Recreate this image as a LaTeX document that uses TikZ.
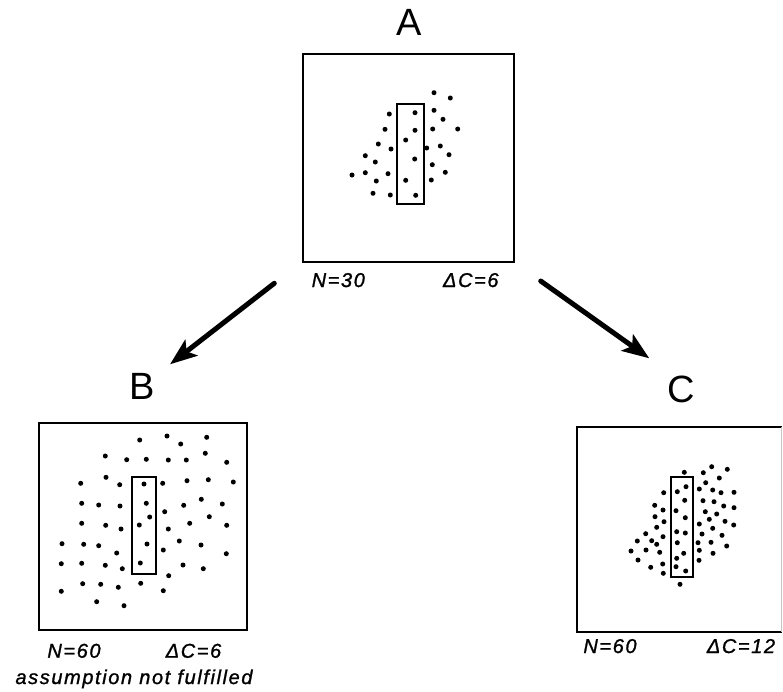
\documentclass[tikz,border=0pt]{standalone}
\usepackage{fontspec}
\setmainfont{Liberation Sans}
\newfontfamily\lblfont[LetterSpace=8,FakeBold=1.2]{Liberation Sans}
\usetikzlibrary{arrows.meta}
\tikzset{
  frame/.style={draw, line width=2.6pt, inner sep=0pt, outer sep=0pt},
  window/.style={draw, line width=2.3pt, inner sep=0pt, outer sep=0pt},
  title/.style={font=\fontsize{38}{40}\selectfont, inner sep=0pt, anchor=base},
  lbl/.style={font=\lblfont\itshape\fontsize{20}{22}\selectfont, inner sep=0pt, anchor=base},
  dot/.style={fill=black},
  flow/.style={line width=5pt, line cap=round, -{Stealth[length=27pt,width=20pt,inset=6pt]}}
}
\begin{document}
\begin{tikzpicture}[x=1pt,y=-1pt]
\useasboundingbox (0,0) rectangle (783,691);

% ---- panel A ----
\node[title] (tA) at (409,35) {A};
\node[frame, minimum width=211pt, minimum height=208pt] (boxA) at (408.5,158) {};
\node[window, minimum width=27pt, minimum height=100pt] (winA) at (410.5,154) {};
\foreach \x/\y in {434/92.7,450.3/98,389.3/114,415/112.7,434/110.3,443/119.3,
  385/129.3,415/130.3,432.7/129,457.7/129,405.7/140,378.3/144,391/149,426.7/148,
  440.3/146,365.3/155.7,449/154.7,375.3/162,414.7/159,432.3/164.7,352/175,
  365.3/172.7,388/173.7,445.3/172.3,376.3/181,405.7/180.3,431.3/180,373/193.3,
  390.3/195,415.7/195.3}
  \fill[dot] (\x,\y) circle (2.5pt);
\node[lbl] (nA) at (338.3,287) {N=30};
\node[lbl] (cA) at (470.8,287) {ΔC=6};

% ---- panel B ----
\node[title] (tB) at (142.5,399) {B};
\node[frame, minimum width=208pt, minimum height=207pt] (boxB) at (143,526.5) {};
\node[window, minimum width=24.3pt, minimum height=97.3pt] (winB) at (143.8,525.3) {};
\foreach \x/\y in {139.7/440,167/436,180.7/444,206.7/437.3,105.3/456,126.7/459.7,
  146.3/459.3,168.3/460,186.3/460,205.3/453.3,226.7/462.3,80.7/483.3,106/477.3,
  119.7/484.7,144/484,162.7/483.3,187/480.7,208.3/479.7,233.3/482,81.7/503.3,
  98.7/505,120/506,146.3/503.3,164.7/511.7,183.7/505.3,201.3/499.3,222.3/504,
  149.7/517,209.3/516.7,81.7/523.3,105.7/525.3,121/529,139.3/525,168.3/529,
  189.7/523.3,226.7/525.3,62/543.7,83.7/544.3,98.7/545.7,147/544,179.3/541,
  201/545,116.7/553,163.3/550,226.3/553.7,61.3/563.7,81.7/563.3,105.3/565.3,
  122.3/568.7,140.3/563,183/565,203.3/568.7,168.7/575.7,82.7/583.7,100.7/584.3,
  118.3/587.3,140.7/583.3,61.3/591.3,163.3/590.7,96.7/601.7,124/605.7}
  \fill[dot] (\x,\y) circle (2.5pt);
\node[lbl] (nB) at (74,657.7) {N=60};
\node[lbl] (cB) at (193.5,657.7) {ΔC=6};
\node[lbl] (note) at (134,684) {assumption not fulfilled};

% ---- panel C ----
\node[title] (tC) at (681,402) {C};
\node[minimum width=204.5pt, minimum height=205pt, inner sep=0pt, outer sep=0pt] (boxC) at (679.25,529.5) {};
\draw[line width=2.6pt] (boxC.north east) -- (boxC.north west) -- (boxC.south west) -- (boxC.south east);
\draw[line width=1.2pt, gray!45] (boxC.north east) -- (boxC.south east);
\node[window, minimum width=22.6pt, minimum height=100pt] (winC) at (682,527.3) {};
\foreach \x/\y in {684.3/472.3,703.3/472.7,711.7/466.7,727.3/469.3,719.3/478,
  705.7/482.7,686/486.7,663.7/492.7,677.3/491.7,699.3/489,712.7/490,721/492.7,
  734/492.3,684.7/500.3,703/500.7,714/501.7,723.7/506,734/507.7,654.7/505.3,
  663/510,676/510.7,705.3/511.7,716.7/514,655/516.7,664/521.7,685.3/517.7,
  709.3/519.3,725/521.3,733.7/525,656.7/527.3,699.3/524,712.7/528.3,645.7/533.7,
  663/536.7,676.7/531.7,685.3/533,702/534,722/535.3,637.3/541,651.7/540.7,
  656.7/544.3,677.3/542.7,698/542.7,711/542.3,726.7/546,631/551,646/550,
  659.7/552.3,683.7/553.3,699.3/550.3,713/553.3,638/560,676.7/558.3,699/560.3,
  650.7/567.3,662.7/564,676/566.7,685.7/571,663.3/573.3,680/584.3}
  \fill[dot] (\x,\y) circle (2.5pt);
\node[lbl] (nC) at (610,653) {N=60};
\node[lbl] (cC) at (741,653) {ΔC=12};

% ---- connectors ----
\coordinate (aL) at (274.3,283.3);
\coordinate (bTip) at (170,364.3);
\coordinate (aR) at (540.7,281);
\coordinate (cTip) at (649.3,358.3);
\draw[flow] (aL) -- (bTip);
\draw[flow] (aR) -- (cTip);
\end{tikzpicture}
\end{document}
